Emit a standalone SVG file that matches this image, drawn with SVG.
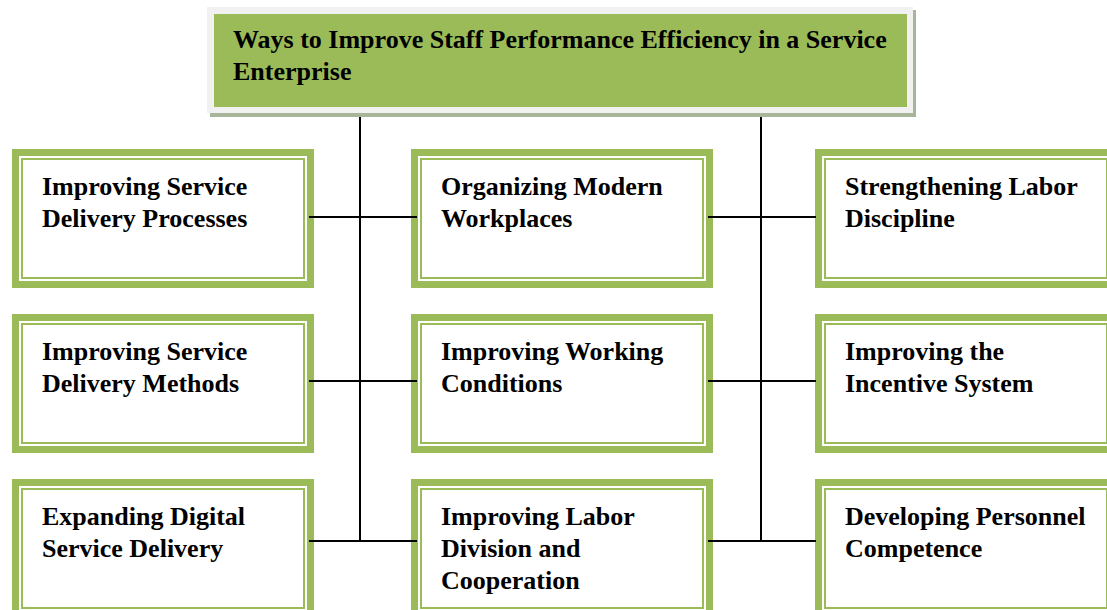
<svg xmlns="http://www.w3.org/2000/svg" width="1107" height="610" viewBox="0 0 1107 610">
  <style>
    .band { fill: none; stroke: #9bbb59; stroke-width: 7; }
    .rule { fill: none; stroke: #9bbb59; stroke-width: 2; }
    .panel { fill: #ffffff; }
    .label { font-family: "Liberation Serif", "Times New Roman", serif; font-weight: bold; font-size: 26px; fill: #000000; }
    .head { font-family: "Liberation Serif", "Times New Roman", serif; font-weight: bold; font-size: 26px; fill: #000000; }
    .wire { stroke: #000000; stroke-width: 2; fill: none; }
  </style>
  <defs>
    <!-- double-ruled green frame, 302 x 139 -->
    <g id="frame">
      <rect class="panel" x="0" y="0" width="302" height="139"/>
      <rect class="band" x="3.5" y="3.5" width="295" height="132"/>
      <rect class="rule" x="10" y="10" width="282" height="119"/>
    </g>
  </defs>

  <rect x="0" y="0" width="1107" height="610" fill="#ffffff"/>

  <!-- title block -->
  <g id="title">
    <rect x="210" y="10" width="706" height="107" fill="#a9b59b"/>
    <rect x="207" y="7" width="706" height="106" fill="#f1f1f1"/>
    <rect x="214" y="14" width="693" height="93" fill="#9bbb59"/>
    <text class="head" x="233" y="48">Ways to Improve Staff Performance Efficiency in a Service</text>
    <text class="head" x="233" y="80">Enterprise</text>
  </g>

  <!-- left column -->
  <g id="n-processes">
    <use href="#frame" x="12" y="149"/>
    <text class="label" x="42" y="195">Improving Service</text>
    <text class="label" x="42" y="227">Delivery Processes</text>
  </g>
  <g id="n-methods">
    <use href="#frame" x="12" y="314"/>
    <text class="label" x="42" y="360">Improving Service</text>
    <text class="label" x="42" y="392">Delivery Methods</text>
  </g>
  <g id="n-digital">
    <use href="#frame" x="12" y="479"/>
    <text class="label" x="42" y="525">Expanding Digital</text>
    <text class="label" x="42" y="557">Service Delivery</text>
  </g>

  <!-- middle column -->
  <g id="n-workplaces">
    <use href="#frame" x="411" y="149"/>
    <text class="label" x="441" y="195">Organizing Modern</text>
    <text class="label" x="441" y="227">Workplaces</text>
  </g>
  <g id="n-conditions">
    <use href="#frame" x="411" y="314"/>
    <text class="label" x="441" y="360">Improving Working</text>
    <text class="label" x="441" y="392">Conditions</text>
  </g>
  <g id="n-division">
    <use href="#frame" x="411" y="479"/>
    <text class="label" x="441" y="525">Improving Labor</text>
    <text class="label" x="441" y="557">Division and</text>
    <text class="label" x="441" y="589">Cooperation</text>
  </g>

  <!-- right column -->
  <g id="n-discipline">
    <use href="#frame" x="815" y="149"/>
    <text class="label" x="845" y="195">Strengthening Labor</text>
    <text class="label" x="845" y="227">Discipline</text>
  </g>
  <g id="n-incentive">
    <use href="#frame" x="815" y="314"/>
    <text class="label" x="845" y="360">Improving the</text>
    <text class="label" x="845" y="392">Incentive System</text>
  </g>
  <g id="n-competence">
    <use href="#frame" x="815" y="479"/>
    <text class="label" x="845" y="525">Developing Personnel</text>
    <text class="label" x="845" y="557">Competence</text>
  </g>

  <!-- connectors -->
  <g id="connectors">
    <line class="wire" x1="360" y1="117" x2="360" y2="542"/>
    <line class="wire" x1="761" y1="117" x2="761" y2="542"/>
    <line class="wire" x1="309" y1="217" x2="417" y2="217"/>
    <line class="wire" x1="309" y1="381" x2="417" y2="381"/>
    <line class="wire" x1="309" y1="541" x2="417" y2="541"/>
    <line class="wire" x1="708" y1="217" x2="816" y2="217"/>
    <line class="wire" x1="708" y1="381" x2="816" y2="381"/>
    <line class="wire" x1="708" y1="541" x2="816" y2="541"/>
  </g>
</svg>
